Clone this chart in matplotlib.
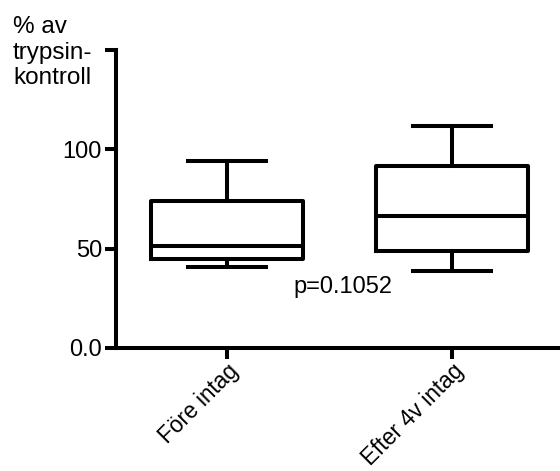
import matplotlib
matplotlib.use("Agg")
import matplotlib.pyplot as plt

# values
groups = ["Före intag", "Efter 4v intag"]
mins = [40.7, 38.7]
q1s = [44.6, 48.8]
medians = [51.3, 66.5]
q3s = [74.0, 91.7]
maxs = [94.2, 111.6]
p_text = "p=0.1052"

yticks = [0, 50, 100, 150]
ytick_labels = ["0.0", "50", "100", ""]

plt.rcParams["font.family"] = ["Liberation Sans", "DejaVu Sans"]
plt.rcParams["font.size"] = 17

fig = plt.figure(figsize=(5.6, 4.71), dpi=100)
ax = fig.add_axes([116 / 560, 123 / 471, 444 / 560, 298 / 471])

lw = 2.9
stats = []
for i in range(len(groups)):
    stats.append({"whislo": mins[i], "q1": q1s[i], "med": medians[i],
                  "q3": q3s[i], "whishi": maxs[i], "fliers": []})

ax.bxp(stats, positions=[1, 2], widths=0.675, showfliers=False,
       boxprops=dict(color="black", linewidth=lw),
       medianprops=dict(color="black", linewidth=lw),
       whiskerprops=dict(color="black", linewidth=lw),
       capprops=dict(color="black", linewidth=lw),
       capwidths=0.35)

ax.text(1.515, 30.5, p_text, ha="center", va="center", fontsize=17)

ax.set_xlim(0.507, 2.48)
ax.set_ylim(0, 150)
ax.set_yticks(yticks)
ax.set_yticklabels(ytick_labels)
ax.set_xticks([1, 2])
ax.set_xticklabels(groups, rotation=45, ha="right", rotation_mode="anchor",
                   fontsize=16.3)

for s in ["top", "right"]:
    ax.spines[s].set_visible(False)
for s in ["left", "bottom"]:
    ax.spines[s].set_linewidth(lw)
ax.tick_params(axis="y", width=lw, length=8, pad=2)
ax.tick_params(axis="x", width=lw, length=8, pad=0.5)

fig.text(13 / 560, 1 - 16 / 471, "% av\ntrypsin-\nkontroll", ha="left", va="top",
         fontsize=17.5, linespacing=1.22)

fig.savefig("out.png", dpi=100, facecolor="white")
